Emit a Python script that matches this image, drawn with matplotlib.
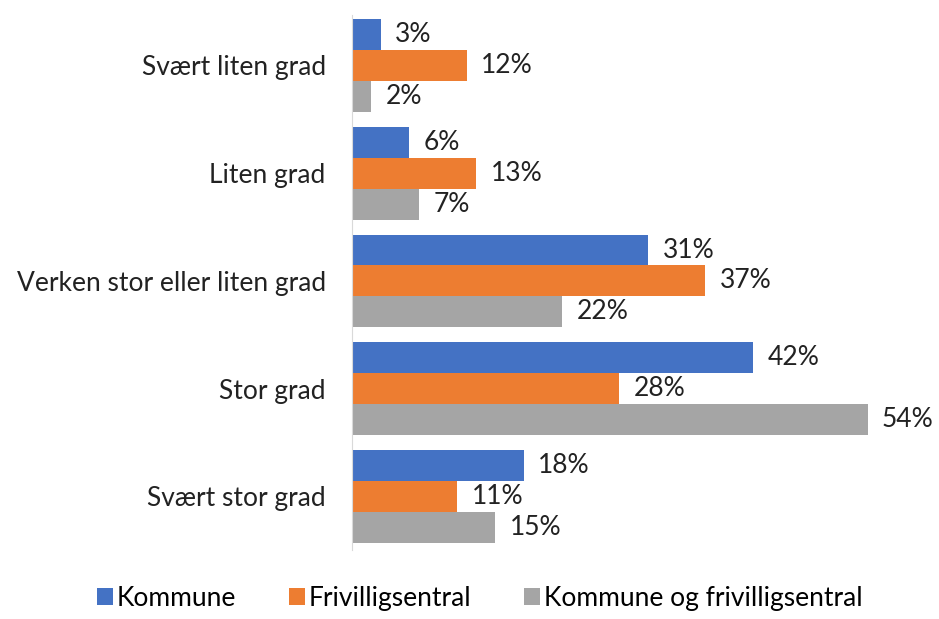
import matplotlib.pyplot as plt
import numpy as np

categories = ["Svært liten grad", "Liten grad", "Verken stor eller liten grad",
              "Stor grad", "Svært stor grad"]
kommune = [3, 6, 31, 42, 18]
frivilligsentral = [12, 13, 37, 28, 11]
begge = [2, 7, 22, 54, 15]
series_names = ["Kommune", "Frivilligsentral", "Kommune og frivilligsentral"]
colors = ["#4472C4", "#ED7D31", "#A5A5A5"]

plt.rcParams['font.family'] = ['Lato', 'DejaVu Sans']

fig = plt.figure(figsize=(9.39, 6.19), dpi=100)
ax = fig.add_axes([0.375, 0.111, 0.61, 0.865])

y = np.arange(len(categories))
h = 0.287
for i, (vals, name, c) in enumerate(zip([kommune, frivilligsentral, begge], series_names, colors)):
    pos = y + (i - 1) * h
    ax.barh(pos, vals, height=h, color=c, label=name)
    for p, v in zip(pos, vals):
        ax.text(v + 1.5, p, f"{v}%", va='center', ha='left', fontsize=19, color='#222222')

ax.set_yticks(y)
ax.set_yticklabels(categories, fontsize=19, color='#222222')
ax.set_ylim(len(categories) - 0.5, -0.47)
ax.set_xlim(0, 60)
ax.set_xticks([])
ax.tick_params(axis='y', length=0, pad=19)
for s in ['top', 'right', 'bottom']:
    ax.spines[s].set_visible(False)
ax.spines['left'].set_color('#D9D9D9')

fig.legend(loc='lower center', bbox_to_anchor=(0.511, -0.025), ncol=3, frameon=False,
           fontsize=19, handlelength=0.6, handleheight=0.6, handletextpad=0.15,
           columnspacing=2.0)

fig.savefig("out.png", dpi=100)
